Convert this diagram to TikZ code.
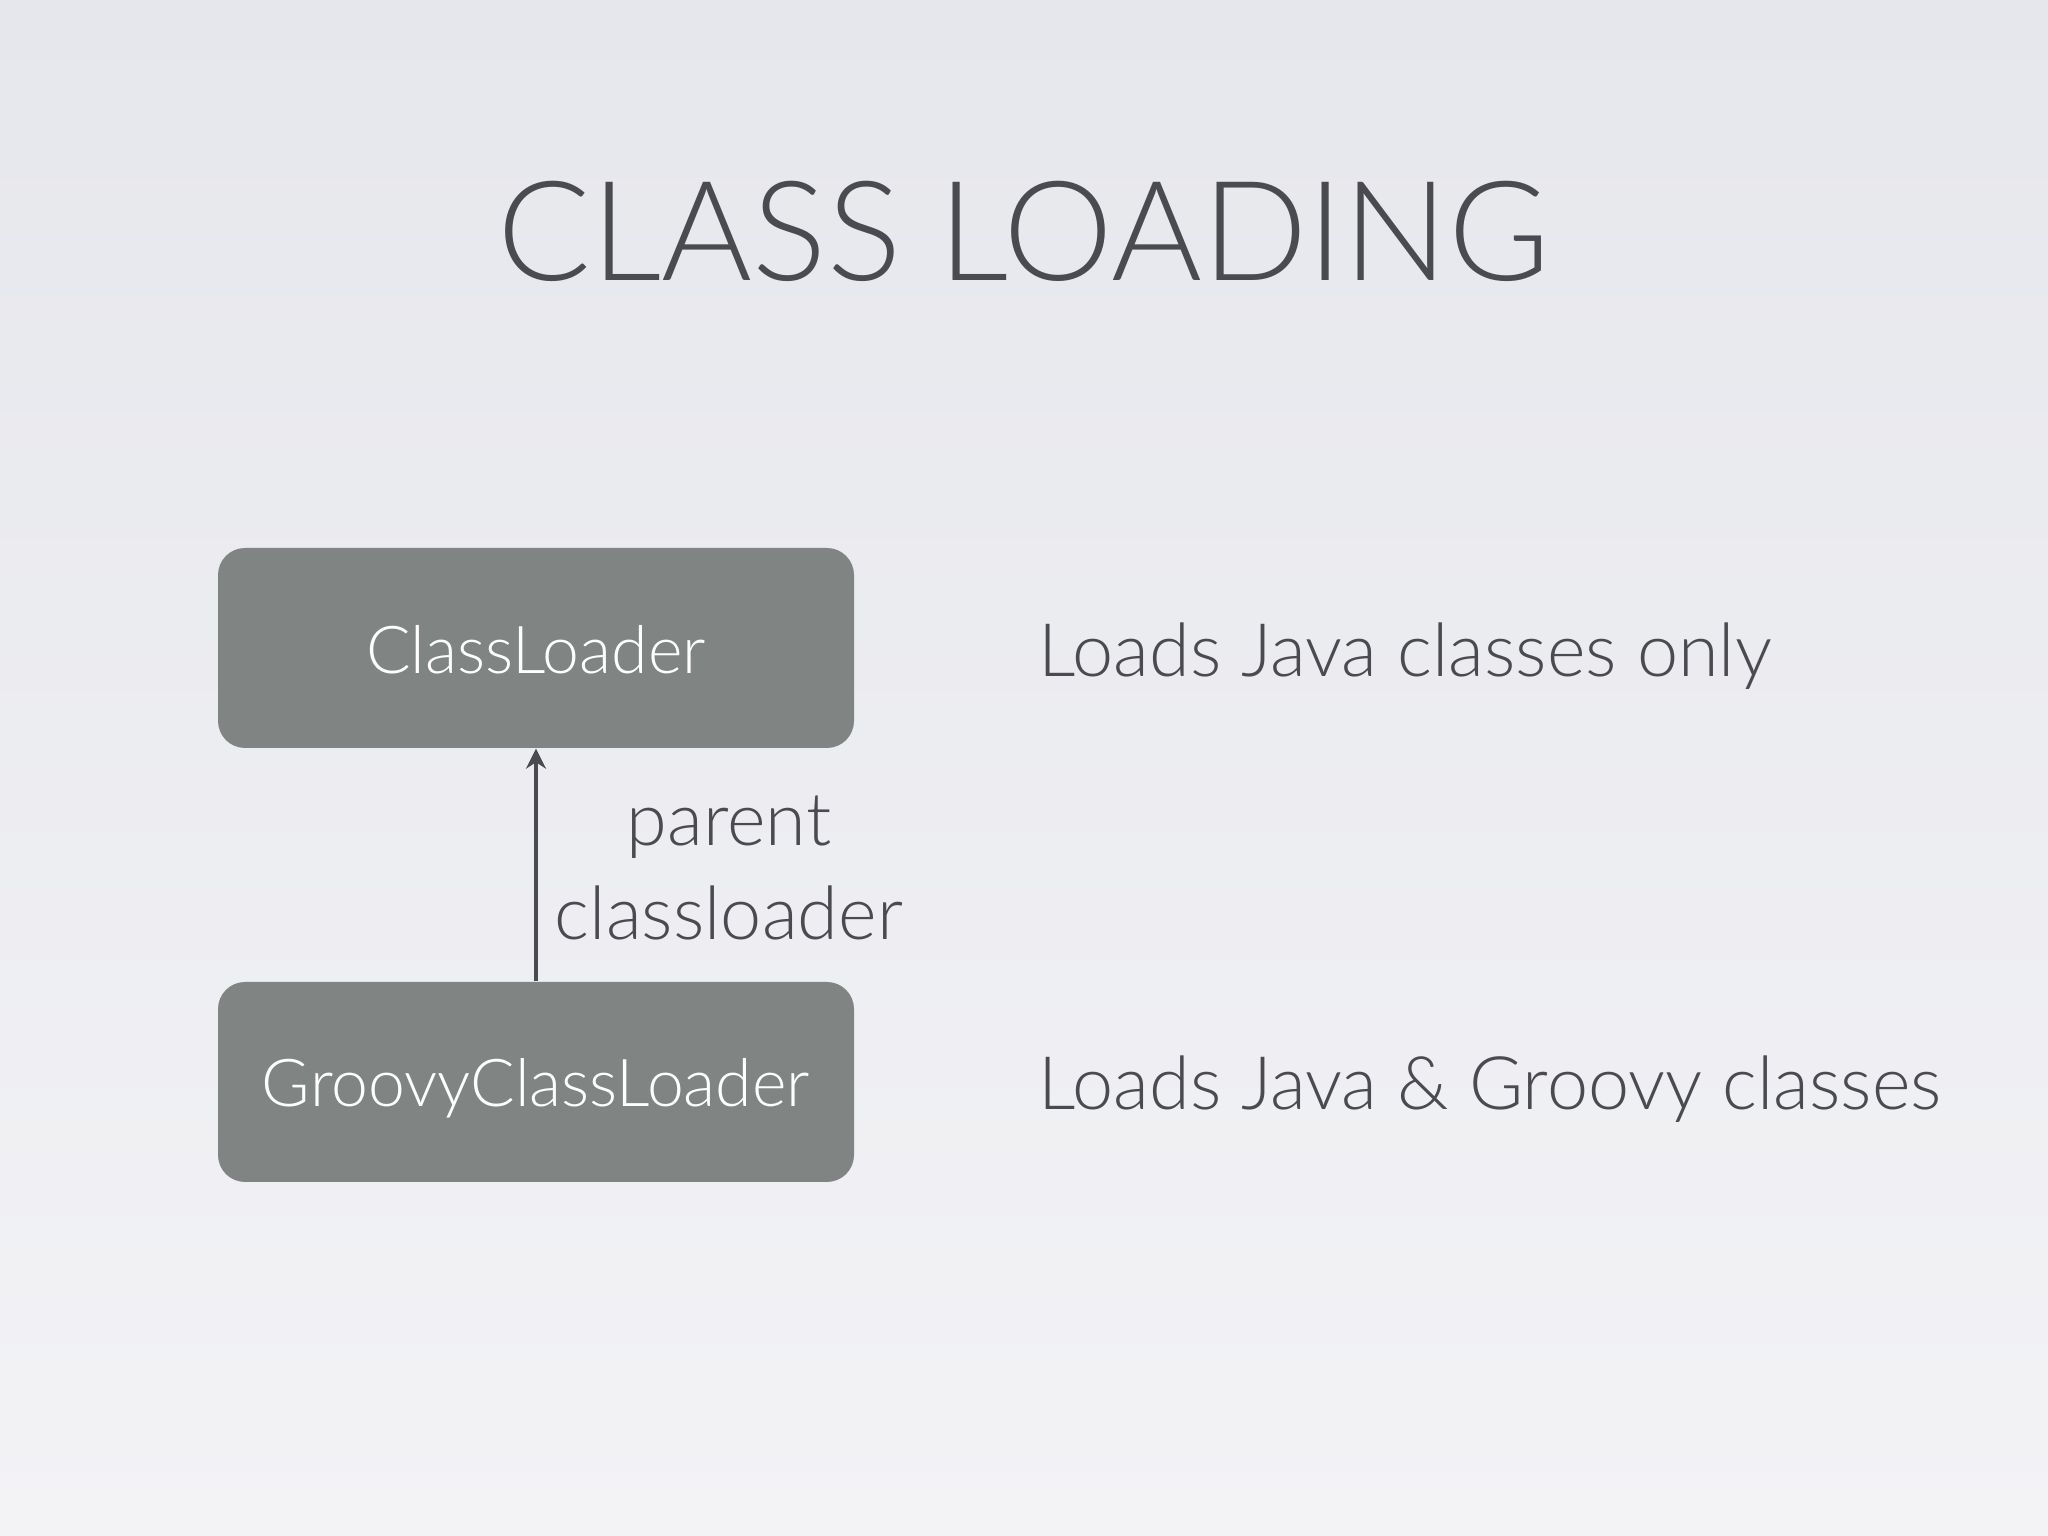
\documentclass[tikz,border=0pt]{standalone}
\usepackage{fontspec}
\setmainfont{Lato}[UprightFont=* Light]
\usetikzlibrary{arrows.meta}
\definecolor{slidetop}{HTML}{E6E7EC}
\definecolor{slidebot}{HTML}{F3F3F6}
\definecolor{boxgray}{HTML}{808584}
\definecolor{inkgray}{HTML}{4A4B50}

\begin{document}
\begin{tikzpicture}[
  loader/.style={fill=boxgray, rounded corners=0.27cm, minimum width=6.36cm,
    minimum height=2cm, inner sep=0pt},
  boxtext/.style={text=white, inner sep=0pt, anchor=base, font=\fontsize{18.8}{22}\selectfont},
  note/.style={text=inkgray, inner sep=0pt, font=\fontsize{21}{24}\selectfont}]
\shade[top color=slidetop, bottom color=slidebot] (0,0) rectangle (20.48,15.36);

\node[note, anchor=base, font=\fontsize{39.5}{44}\selectfont] (title) at (10.24,12.55) {CLASS LOADING};

\node[loader] (cl) at (5.36,8.88) {};
\node[loader] (gcl) at (5.36,4.54) {};
\node[boxtext] (cltxt) at (5.36,8.62) {ClassLoader};
\node[boxtext] (gcltxt) at (5.36,4.29) {GroovyClassLoader};

\draw[-{Stealth[length=0.2cm,width=0.2cm]}, inkgray, line width=1pt] (gcl.north) -- (cl.south);
\node[note, anchor=base] (par) at (7.29,6.90) {parent};
\node[note, anchor=base] (pcl) at (7.29,5.96) {classloader};

\node[note, anchor=base west] (javaonly) at (10.38,8.59) {Loads Java classes only};
\node[note, anchor=base west] (javagroovy) at (10.38,4.26) {Loads Java \& Groovy classes};
\end{tikzpicture}
\end{document}
